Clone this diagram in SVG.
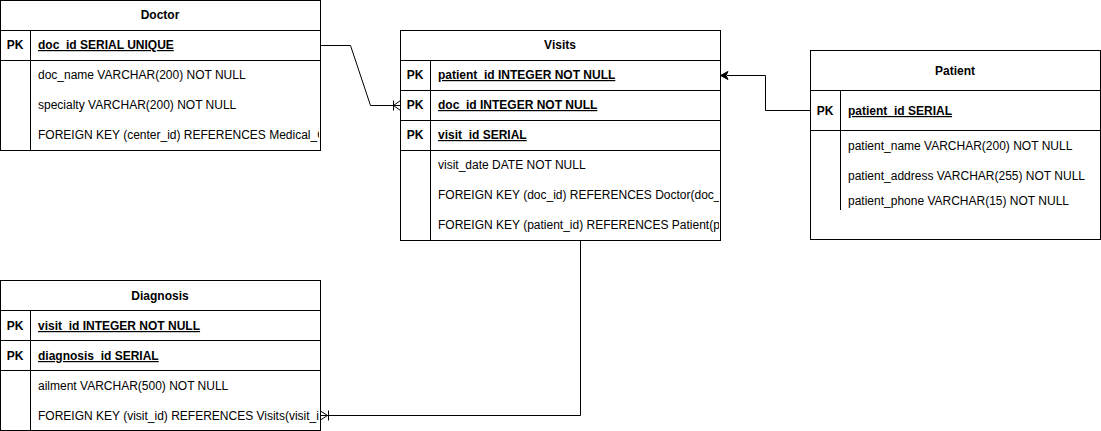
<svg xmlns="http://www.w3.org/2000/svg" width="1101" height="431" viewBox="0 0 1101 431">
<style>
text{font-family:"Liberation Sans",Arial,sans-serif;font-size:12px;fill:#000}
.h{font-weight:bold;text-anchor:middle}
.pk{font-weight:bold;text-anchor:middle}
.k{font-weight:bold;text-decoration:underline}
.box{fill:#fff;stroke:#000;stroke-width:1}
.ln{stroke:#000;stroke-width:1;fill:none}
</style>
<defs>
<clipPath id="cD"><rect x="0" y="0" width="319" height="150"/></clipPath>
<clipPath id="cV"><rect x="400" y="30" width="319" height="210"/></clipPath>
<clipPath id="cG"><rect x="0" y="280" width="319" height="150"/></clipPath>
</defs>
<rect width="1101" height="431" fill="#fff"/>
<g id="doctor">
<rect class="box" x="0.5" y="0.5" width="320" height="150"/>
<line class="ln" x1="0.5" y1="30.5" x2="320.5" y2="30.5"/>
<line class="ln" x1="0.5" y1="60.5" x2="320.5" y2="60.5"/>
<line class="ln" x1="30.5" y1="30.5" x2="30.5" y2="150.5"/>
<text class="h" x="160" y="19">Doctor</text>
<text class="pk" x="15" y="49">PK</text>
<g clip-path="url(#cD)">
<text class="k" x="38" y="49">doc_id SERIAL UNIQUE</text>
<text x="38" y="79">doc_name VARCHAR(200) NOT NULL</text>
<text x="38" y="109">specialty VARCHAR(200) NOT NULL</text>
<text x="38" y="139">FOREIGN KEY (center_id) REFERENCES Medical_Center(center_id)</text>
</g>
</g>
<g id="visits">
<rect class="box" x="400.5" y="30.5" width="320" height="210"/>
<line class="ln" x1="400.5" y1="60.5" x2="720.5" y2="60.5"/>
<line class="ln" x1="400.5" y1="90.5" x2="720.5" y2="90.5"/>
<line class="ln" x1="400.5" y1="120.5" x2="720.5" y2="120.5"/>
<line class="ln" x1="400.5" y1="150.5" x2="720.5" y2="150.5"/>
<line class="ln" x1="430.5" y1="60.5" x2="430.5" y2="240.5"/>
<text class="h" x="560" y="49">Visits</text>
<text class="pk" x="415" y="79">PK</text>
<text class="pk" x="415" y="109">PK</text>
<text class="pk" x="415" y="139">PK</text>
<g clip-path="url(#cV)">
<text class="k" x="438" y="79">patient_id INTEGER NOT NULL</text>
<text class="k" x="438" y="109">doc_id INTEGER NOT NULL</text>
<text class="k" x="438" y="139">visit_id SERIAL</text>
<text x="438" y="169">visit_date DATE NOT NULL</text>
<text x="438" y="199">FOREIGN KEY (doc_id) REFERENCES Doctor(doc_id)</text>
<text x="438" y="229">FOREIGN KEY (patient_id) REFERENCES Patient(patient_id)</text>
</g>
</g>
<g id="patient">
<rect class="box" x="810.5" y="50.5" width="290" height="189"/>
<line class="ln" x1="810.5" y1="90.5" x2="1100.5" y2="90.5"/>
<line class="ln" x1="810.5" y1="130.5" x2="1100.5" y2="130.5"/>
<line class="ln" x1="840.5" y1="90.5" x2="840.5" y2="210"/>
<text class="h" x="955" y="75">Patient</text>
<text class="pk" x="825" y="115">PK</text>
<text class="k" x="848" y="115">patient_id SERIAL</text>
<text x="848" y="150">patient_name VARCHAR(200) NOT NULL</text>
<text x="848" y="180">patient_address VARCHAR(255) NOT NULL</text>
<text x="848" y="205">patient_phone VARCHAR(15) NOT NULL</text>
</g>
<g id="diagnosis">
<rect class="box" x="0.5" y="280.5" width="320" height="150"/>
<line class="ln" x1="0.5" y1="310.5" x2="320.5" y2="310.5"/>
<line class="ln" x1="0.5" y1="340.5" x2="320.5" y2="340.5"/>
<line class="ln" x1="0.5" y1="370.5" x2="320.5" y2="370.5"/>
<line class="ln" x1="30.5" y1="310.5" x2="30.5" y2="430.5"/>
<text class="h" x="160" y="300">Diagnosis</text>
<text class="pk" x="15" y="330">PK</text>
<text class="pk" x="15" y="360">PK</text>
<g clip-path="url(#cG)">
<text class="k" x="38" y="330">visit_id INTEGER NOT NULL</text>
<text class="k" x="38" y="360">diagnosis_id SERIAL</text>
<text x="38" y="390">ailment VARCHAR(500) NOT NULL</text>
<text x="38" y="420">FOREIGN KEY (visit_id) REFERENCES Visits(visit_id)</text>
</g>
</g>
<g id="connectors">
<polyline class="ln" points="320.5,45.5 350.5,45.5 370.5,105.5 400.5,105.5"/>
<path class="ln" d="M393.5,100.5 V110.5 M393.5,105.5 L400.5,100.5 M393.5,105.5 L400.5,110.5"/>
<polyline class="ln" points="810.5,110.5 765.5,110.5 765.5,75.5 727,75.5"/>
<path d="M720.5,75.5 L728,71.5 L726,75.5 L728,79.5 Z" fill="#000" stroke="#000" stroke-width="1"/>
<polyline class="ln" points="580.5,240.5 580.5,415.5 320.5,415.5"/>
<path class="ln" d="M328.5,410.5 V420.5 M320.5,411 L327.5,415.5 L320.5,420"/>
</g>
</svg>
